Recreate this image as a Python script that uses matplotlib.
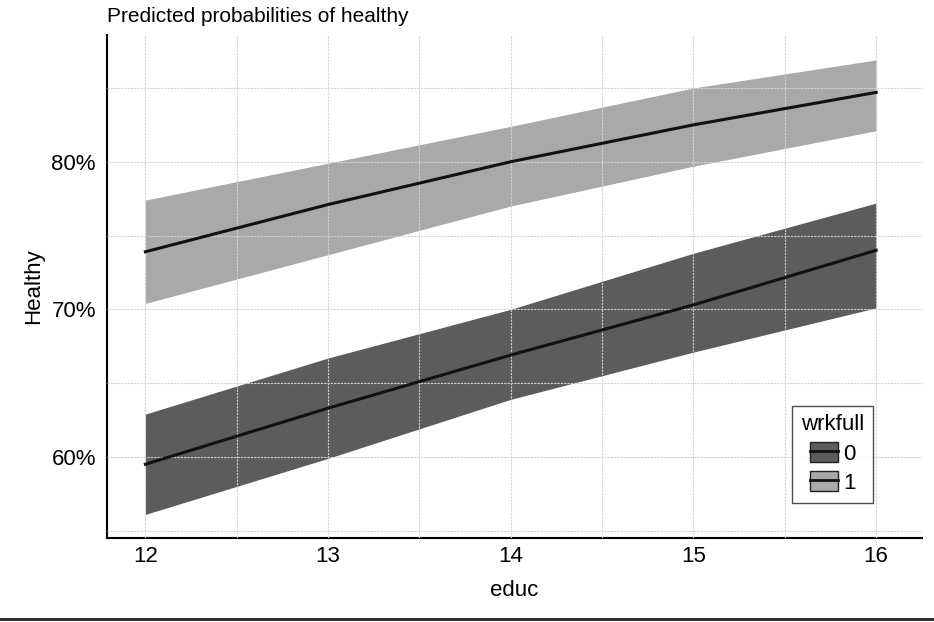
import matplotlib
matplotlib.use("Agg")
import matplotlib.pyplot as plt
from matplotlib.patches import Patch
from matplotlib.lines import Line2D
from matplotlib.ticker import PercentFormatter, MultipleLocator

plt.rcParams['font.family'] = ['Liberation Sans', 'DejaVu Sans']

# valeurs
educ = [12, 13, 14, 15, 16]
fit_0 = [0.595, 0.633, 0.669, 0.703, 0.740]
low_0 = [0.561, 0.599, 0.639, 0.671, 0.701]
high_0 = [0.629, 0.667, 0.700, 0.738, 0.772]
fit_1 = [0.739, 0.771, 0.800, 0.825, 0.847]
low_1 = [0.704, 0.737, 0.770, 0.797, 0.821]
high_1 = [0.774, 0.799, 0.824, 0.850, 0.869]
groups = ["0", "1"]
band_colors = ["#5c5c5c", "#a9a9a9"]

fig = plt.figure(figsize=(9.34, 6.22), dpi=100)
ax = fig.add_axes([0.1146, 0.135, 0.8724, 0.809])

ax.fill_between(educ, low_0, high_0, color=band_colors[0], lw=0, zorder=1)
ax.fill_between(educ, low_1, high_1, color=band_colors[1], lw=0, zorder=1)
ax.plot(educ, fit_0, color="#111111", lw=2.2, zorder=3)
ax.plot(educ, fit_1, color="#111111", lw=2.2, zorder=3)

ax.set_xlim(11.79, 16.25)
ax.set_ylim(0.545, 0.886)
ax.xaxis.set_major_locator(MultipleLocator(1))
ax.xaxis.set_minor_locator(MultipleLocator(0.5))
ax.yaxis.set_major_locator(MultipleLocator(0.1))
ax.yaxis.set_minor_locator(MultipleLocator(0.05))
ax.yaxis.set_major_formatter(PercentFormatter(1, decimals=0))
ax.set_axisbelow(False)
ax.grid(which="both", color="#d2d2d2", linestyle=(0, (2, 1)), lw=0.8, zorder=2)
ax.tick_params(which="both", length=0, labelsize=16)
ax.tick_params(axis="x", pad=6)
ax.tick_params(axis="y", pad=8)

for s in ["top", "right"]:
    ax.spines[s].set_visible(False)
ax.spines["left"].set_linewidth(1.5)
ax.spines["bottom"].set_linewidth(1.5)

ax.set_xlabel("educ", fontsize=16, labelpad=9)
ax.set_ylabel("Healthy", fontsize=16)
ax.yaxis.set_label_coords(-0.077, 0.5)
ax.set_title("Predicted probabilities of healthy", loc="left", fontsize=15, pad=9)

handles = [(Patch(facecolor=c, edgecolor="#222222", lw=1),
            Line2D([], [], color="#111111", lw=2)) for c in band_colors]
leg = ax.legend(handles, groups, title="wrkfull", loc="lower right",
                bbox_to_anchor=(0.94, 0.07), fontsize=16, title_fontsize=16,
                frameon=True, fancybox=False, edgecolor="#222222",
                handlelength=1.3, handleheight=1.0, handletextpad=0.2,
                labelspacing=0.3, borderpad=0.4, borderaxespad=0)
leg.get_frame().set_linewidth(1)

fig.add_artist(Line2D([0, 1], [0.005, 0.005], color="#222222", lw=2,
                      transform=fig.transFigure))

fig.savefig("out.png", dpi=100)
